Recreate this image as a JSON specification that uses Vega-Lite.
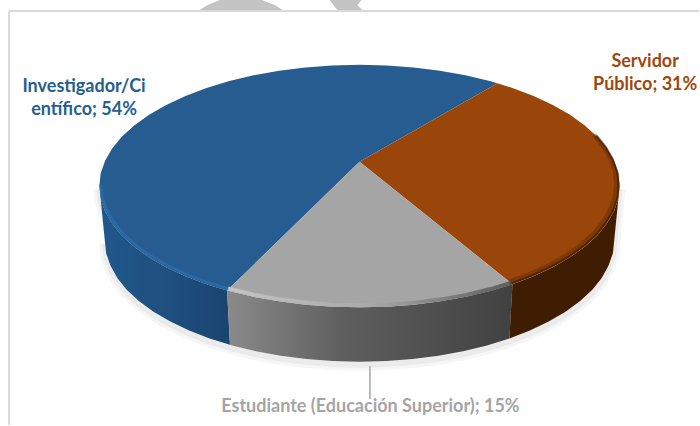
{
"$schema":"https://vega.github.io/schema/vega-lite/v6.json",
"width":700,"height":426,"padding":0,
"autosize":{"type":"fit","contains":"padding"},
"background":"white",
"config":{"view":{"stroke":null}},
"datasets":{
"shapes":[
{"p":"mark1","o":1,"x":-61.8,"y":144.9},{"p":"mark1","o":2,"x":-58.4,"y":149.4},{"p":"mark1","o":3,"x":-53.7,"y":153.5},{"p":"mark1","o":4,"x":-37.6,"y":153.5},{"p":"mark1","o":5,"x":-32.6,"y":149.4},{"p":"mark1","o":6,"x":-29.2,"y":144.9},
{"p":"mark2","o":1,"x":-11.5,"y":153.5},{"p":"mark2","o":2,"x":0.8,"y":153.5},{"p":"mark2","o":3,"x":-0.8,"y":149.4},{"p":"mark2","o":4,"x":1.2,"y":144.9},{"p":"mark2","o":5,"x":-8.4,"y":144.9},

{"p":"blueTop","o":0,"x":0,"y":20},{"p":"blueTop","o":1,"x":53,"y":84.8},{"p":"blueTop","o":2,"x":50,"y":86.6},{"p":"blueTop","o":3,"x":40.7,"y":91.4},{"p":"blueTop","o":4,"x":30.9,"y":95.1},{"p":"blueTop","o":5,"x":20.8,"y":97.8},{"p":"blueTop","o":6,"x":10.5,"y":99.5},{"p":"blueTop","o":7,"x":0,"y":100},{"p":"blueTop","o":8,"x":-10.5,"y":99.5},{"p":"blueTop","o":9,"x":-20.8,"y":97.8},{"p":"blueTop","o":10,"x":-30.9,"y":95.1},{"p":"blueTop","o":11,"x":-40.7,"y":91.4},{"p":"blueTop","o":12,"x":-50,"y":86.6},{"p":"blueTop","o":13,"x":-58.8,"y":80.9},{"p":"blueTop","o":14,"x":-66.9,"y":74.3},{"p":"blueTop","o":15,"x":-74.3,"y":66.9},{"p":"blueTop","o":16,"x":-80.9,"y":58.8},{"p":"blueTop","o":17,"x":-86.6,"y":50},{"p":"blueTop","o":18,"x":-91.4,"y":40.7},{"p":"blueTop","o":19,"x":-95.1,"y":30.9},{"p":"blueTop","o":20,"x":-97.8,"y":20.8},{"p":"blueTop","o":21,"x":-99.5,"y":10.5},{"p":"blueTop","o":22,"x":-100,"y":0},{"p":"blueTop","o":23,"x":-99.5,"y":-10.5},{"p":"blueTop","o":24,"x":-97.8,"y":-20.8},{"p":"blueTop","o":25,"x":-95.1,"y":-30.9},{"p":"blueTop","o":26,"x":-91.4,"y":-40.7},{"p":"blueTop","o":27,"x":-86.6,"y":-50},{"p":"blueTop","o":28,"x":-80.9,"y":-58.8},{"p":"blueTop","o":29,"x":-74.3,"y":-66.9},{"p":"blueTop","o":30,"x":-66.9,"y":-74.3},{"p":"blueTop","o":31,"x":-58.8,"y":-80.9},{"p":"blueTop","o":32,"x":-50.9,"y":-86.1},

{"p":"brownTop","o":0,"x":0,"y":20},{"p":"brownTop","o":1,"x":53,"y":84.8},{"p":"brownTop","o":2,"x":58.8,"y":80.9},{"p":"brownTop","o":3,"x":66.9,"y":74.3},{"p":"brownTop","o":4,"x":74.3,"y":66.9},{"p":"brownTop","o":5,"x":80.9,"y":58.8},{"p":"brownTop","o":6,"x":86.6,"y":50},{"p":"brownTop","o":7,"x":91.4,"y":40.7},{"p":"brownTop","o":8,"x":95.1,"y":30.9},{"p":"brownTop","o":9,"x":97.8,"y":20.8},{"p":"brownTop","o":10,"x":99.5,"y":10.5},{"p":"brownTop","o":11,"x":100,"y":0},{"p":"brownTop","o":12,"x":99.5,"y":-10.5},{"p":"brownTop","o":13,"x":97.8,"y":-20.8},{"p":"brownTop","o":14,"x":95.1,"y":-30.9},{"p":"brownTop","o":15,"x":91.4,"y":-40.7},{"p":"brownTop","o":16,"x":86.6,"y":-50},{"p":"brownTop","o":17,"x":80.9,"y":-58.8},{"p":"brownTop","o":18,"x":74.3,"y":-66.9},{"p":"brownTop","o":19,"x":66.9,"y":-74.3},{"p":"brownTop","o":20,"x":58.8,"y":-80.9},

{"p":"grayTop","o":0,"x":0,"y":20},{"p":"grayTop","o":1,"x":58.8,"y":-80.9},{"p":"grayTop","o":2,"x":50,"y":-86.6},{"p":"grayTop","o":3,"x":40.7,"y":-91.4},{"p":"grayTop","o":4,"x":30.9,"y":-95.1},{"p":"grayTop","o":5,"x":20.8,"y":-97.8},{"p":"grayTop","o":6,"x":10.5,"y":-99.5},{"p":"grayTop","o":7,"x":0,"y":-100},{"p":"grayTop","o":8,"x":-10.5,"y":-99.5},{"p":"grayTop","o":9,"x":-20.8,"y":-97.8},{"p":"grayTop","o":10,"x":-30.9,"y":-95.1},{"p":"grayTop","o":11,"x":-40.7,"y":-91.4},{"p":"grayTop","o":12,"x":-50,"y":-86.6},{"p":"grayTop","o":13,"x":-50.9,"y":-86.1},

{"p":"blueWall","e":"top","o":1,"x":-100,"y":0},{"p":"blueWall","e":"top","o":2,"x":-99.5,"y":-10.5},{"p":"blueWall","e":"top","o":3,"x":-97.8,"y":-20.8},{"p":"blueWall","e":"top","o":4,"x":-95.1,"y":-30.9},{"p":"blueWall","e":"top","o":5,"x":-91.4,"y":-40.7},{"p":"blueWall","e":"top","o":6,"x":-86.6,"y":-50},{"p":"blueWall","e":"top","o":7,"x":-80.9,"y":-58.8},{"p":"blueWall","e":"top","o":8,"x":-74.3,"y":-66.9},{"p":"blueWall","e":"top","o":9,"x":-66.9,"y":-74.3},{"p":"blueWall","e":"top","o":10,"x":-58.8,"y":-80.9},{"p":"blueWall","e":"top","o":11,"x":-50.9,"y":-86.1},
{"p":"blueWall","e":"base","o":12,"x":-49.8,"y":-131},{"p":"blueWall","e":"base","o":13,"x":-57.6,"y":-125.8},{"p":"blueWall","e":"base","o":14,"x":-65.5,"y":-119.2},{"p":"blueWall","e":"base","o":15,"x":-72.7,"y":-111.8},{"p":"blueWall","e":"base","o":16,"x":-79.2,"y":-103.7},{"p":"blueWall","e":"base","o":17,"x":-84.8,"y":-94.9},{"p":"blueWall","e":"base","o":18,"x":-89.5,"y":-85.6},{"p":"blueWall","e":"base","o":19,"x":-93.1,"y":-75.8},{"p":"blueWall","e":"base","o":20,"x":-95.7,"y":-65.7},{"p":"blueWall","e":"base","o":21,"x":-97.4,"y":-55.4},{"p":"blueWall","e":"base","o":22,"x":-97.9,"y":-44.9},

{"p":"grayWall","e":"top","o":1,"x":-50.9,"y":-86.1},{"p":"grayWall","e":"top","o":2,"x":-50,"y":-86.6},{"p":"grayWall","e":"top","o":3,"x":-40.7,"y":-91.4},{"p":"grayWall","e":"top","o":4,"x":-30.9,"y":-95.1},{"p":"grayWall","e":"top","o":5,"x":-20.8,"y":-97.8},{"p":"grayWall","e":"top","o":6,"x":-10.5,"y":-99.5},{"p":"grayWall","e":"top","o":7,"x":0,"y":-100},{"p":"grayWall","e":"top","o":8,"x":10.5,"y":-99.5},{"p":"grayWall","e":"top","o":9,"x":20.8,"y":-97.8},{"p":"grayWall","e":"top","o":10,"x":30.9,"y":-95.1},{"p":"grayWall","e":"top","o":11,"x":40.7,"y":-91.4},{"p":"grayWall","e":"top","o":12,"x":50,"y":-86.6},{"p":"grayWall","e":"top","o":13,"x":58.8,"y":-80.9},
{"p":"grayWall","e":"base","o":14,"x":57.6,"y":-125.8},{"p":"grayWall","e":"base","o":15,"x":49,"y":-131.5},{"p":"grayWall","e":"base","o":16,"x":39.8,"y":-136.3},{"p":"grayWall","e":"base","o":17,"x":30.3,"y":-140},{"p":"grayWall","e":"base","o":18,"x":20.4,"y":-142.7},{"p":"grayWall","e":"base","o":19,"x":10.3,"y":-144.4},{"p":"grayWall","e":"base","o":20,"x":0,"y":-144.9},{"p":"grayWall","e":"base","o":21,"x":-10.3,"y":-144.4},{"p":"grayWall","e":"base","o":22,"x":-20.4,"y":-142.7},{"p":"grayWall","e":"base","o":23,"x":-30.3,"y":-140},{"p":"grayWall","e":"base","o":24,"x":-39.8,"y":-136.3},{"p":"grayWall","e":"base","o":25,"x":-49,"y":-131.5},{"p":"grayWall","e":"base","o":26,"x":-49.8,"y":-131},

{"p":"brownWall","e":"top","o":1,"x":58.8,"y":-80.9},{"p":"brownWall","e":"top","o":2,"x":66.9,"y":-74.3},{"p":"brownWall","e":"top","o":3,"x":74.3,"y":-66.9},{"p":"brownWall","e":"top","o":4,"x":80.9,"y":-58.8},{"p":"brownWall","e":"top","o":5,"x":86.6,"y":-50},{"p":"brownWall","e":"top","o":6,"x":91.4,"y":-40.7},{"p":"brownWall","e":"top","o":7,"x":95.1,"y":-30.9},{"p":"brownWall","e":"top","o":8,"x":97.8,"y":-20.8},{"p":"brownWall","e":"top","o":9,"x":99.5,"y":-10.5},{"p":"brownWall","e":"top","o":10,"x":100,"y":0},
{"p":"brownWall","e":"base","o":11,"x":97.9,"y":-44.9},{"p":"brownWall","e":"base","o":12,"x":97.4,"y":-55.4},{"p":"brownWall","e":"base","o":13,"x":95.7,"y":-65.7},{"p":"brownWall","e":"base","o":14,"x":93.1,"y":-75.8},{"p":"brownWall","e":"base","o":15,"x":89.5,"y":-85.6},{"p":"brownWall","e":"base","o":16,"x":84.8,"y":-94.9},{"p":"brownWall","e":"base","o":17,"x":79.2,"y":-103.7},{"p":"brownWall","e":"base","o":18,"x":72.7,"y":-111.8},{"p":"brownWall","e":"base","o":19,"x":65.5,"y":-119.2},{"p":"brownWall","e":"base","o":20,"x":57.6,"y":-125.8}
],
"labels":[
{"label":"Investigador/Ci\nentífico; 54%","share":54,"x":-105.9,"y":81.5,"c":"Investigador"},
{"label":"Servidor\nPúblico; 31%","share":31,"x":109.8,"y":102.1,"c":"Servidor"},
{"label":"Estudiante (Educación Superior); 15%","share":15,"x":4.2,"y":-182.3,"c":"Estudiante"}
]
},
"encoding":{
"x":{"field":"x","type":"quantitative","axis":null,"scale":{"domain":[-138.2,130.5],"nice":false,"zero":false}},
"y":{"field":"y","type":"quantitative","axis":null,"scale":{"domain":[-197.1,153.5],"nice":false,"zero":false}}
},
"layer":[
{"data":{"name":"shapes"},"transform":[{"filter":"datum.p=='mark1'"}],"mark":{"type":"line","filled":true,"fill":"#c4c4c4","stroke":null,"clip":true},"encoding":{"order":{"field":"o","type":"quantitative"}}},
{"data":{"name":"shapes"},"transform":[{"filter":"datum.p=='mark2'"}],"mark":{"type":"line","filled":true,"fill":"#c4c4c4","stroke":null,"clip":true},"encoding":{"order":{"field":"o","type":"quantitative"}}},
{"data":{"values":[{"x":-134.7,"x2":130.5,"y":144.4}]},"mark":{"type":"rule","stroke":"#d9d9d9","strokeWidth":2},"encoding":{"x2":{"field":"x2"}}},
{"data":{"values":[{"x":-134.7,"y":144.4,"y2":-197.1}]},"mark":{"type":"rule","stroke":"#d9d9d9","strokeWidth":2},"encoding":{"y2":{"field":"y2"}}},
{"data":{"name":"shapes"},"transform":[{"filter":"datum.p=='blueWall'||datum.p=='grayWall'||datum.p=='brownWall'"}],"mark":{"type":"line","filled":true,"fill":"#f6f6f6","stroke":"#f6f6f6","strokeWidth":12,"yOffset":3},"encoding":{"detail":{"field":"p"},"order":{"field":"o","type":"quantitative"}}},
{"data":{"name":"shapes"},"transform":[{"filter":"datum.p=='blueWall'||datum.p=='grayWall'||datum.p=='brownWall'"}],"mark":{"type":"line","filled":true,"fill":"#ebebeb","stroke":"#ebebeb","strokeWidth":6,"yOffset":3},"encoding":{"detail":{"field":"p"},"order":{"field":"o","type":"quantitative"}}},
{"data":{"name":"shapes"},"transform":[{"filter":"datum.p=='blueWall'"}],"mark":{"type":"line","filled":true,"stroke":null,"fill":{"gradient":"linear","x1":0,"y1":0,"x2":1,"y2":0,"stops":[{"offset":0,"color":"#20578a"},{"offset":0.5,"color":"#1f5080"},{"offset":1,"color":"#1a4470"}]}},"encoding":{"order":{"field":"o","type":"quantitative"}}},
{"data":{"name":"shapes"},"transform":[{"filter":"datum.p=='grayWall'"}],"mark":{"type":"line","filled":true,"stroke":null,"fill":{"gradient":"linear","x1":0,"y1":0,"x2":1,"y2":0,"stops":[{"offset":0,"color":"#8a8a8a"},{"offset":0.4,"color":"#5f5f5f"},{"offset":1,"color":"#414141"}]}},"encoding":{"order":{"field":"o","type":"quantitative"}}},
{"data":{"name":"shapes"},"transform":[{"filter":"datum.p=='brownWall'"}],"mark":{"type":"line","filled":true,"stroke":null,"fill":"#3e1d03"},"encoding":{"order":{"field":"o","type":"quantitative"}}},
{"data":{"name":"shapes"},"transform":[{"filter":"datum.p=='blueTop'"}],"mark":{"type":"line","filled":true,"stroke":null,"fill":"#265c8f"},"encoding":{"order":{"field":"o","type":"quantitative"}}},
{"data":{"name":"shapes"},"transform":[{"filter":"datum.p=='brownTop'"}],"mark":{"type":"line","filled":true,"stroke":null,"fill":"#9a460b"},"encoding":{"order":{"field":"o","type":"quantitative"}}},
{"data":{"name":"shapes"},"transform":[{"filter":"datum.p=='grayTop'"}],"mark":{"type":"line","filled":true,"stroke":null,"fill":"#a5a5a5"},"encoding":{"order":{"field":"o","type":"quantitative"}}},
{"data":{"name":"shapes"},"transform":[{"filter":"datum.p=='blueWall'&&datum.e=='top'"}],"mark":{"type":"line","stroke":"#2a6aa5","strokeWidth":3,"yOffset":-1.5,"xOffset":1.5,"strokeCap":"butt"},"encoding":{"order":{"field":"o","type":"quantitative"}}},
{"data":{"name":"shapes"},"transform":[{"filter":"datum.p=='grayWall'&&datum.e=='top'"}],"mark":{"type":"line","strokeWidth":4,"yOffset":-2,"xOffset":1,"strokeCap":"butt","stroke":{"gradient":"linear","x1":0,"y1":0,"x2":1,"y2":0,"stops":[{"offset":0,"color":"#c4c4c4"},{"offset":0.5,"color":"#a8a8a8"},{"offset":1,"color":"#5c5c5c"}]}},"encoding":{"order":{"field":"o","type":"quantitative"}}},
{"data":{"name":"shapes"},"transform":[{"filter":"datum.p=='brownTop'&&datum.o>=7"}],"mark":{"type":"line","stroke":"#3e1d03","strokeWidth":5,"opacity":0.3,"yOffset":-2,"xOffset":-3,"strokeCap":"butt"},"encoding":{"order":{"field":"o","type":"quantitative"}}},
{"data":{"name":"shapes"},"transform":[{"filter":"datum.p=='brownTop'&&datum.o>=7"}],"mark":{"type":"line","stroke":"#3e1d03","strokeWidth":2,"opacity":0.7,"xOffset":-1,"yOffset":-1,"strokeCap":"butt"},"encoding":{"order":{"field":"o","type":"quantitative"}}},
{"data":{"values":[{"x":4,"y":-148.6,"y2":-175.7}]},"mark":{"type":"rule","stroke":"#a6a6a6","strokeWidth":1.5},"encoding":{"y2":{"field":"y2"}}},
{"data":{"name":"labels"},"mark":{"type":"text","font":"Lato","fontWeight":"bold","fontSize":18,"lineBreak":"\n","lineHeight":23,"align":"center","baseline":"middle"},"encoding":{"text":{"field":"label","type":"nominal"},"color":{"field":"c","type":"nominal","legend":null,"scale":{"domain":["Investigador","Servidor","Estudiante"],"range":["#255e91","#9e480e","#a5a5a5"]}}}}
]
}
